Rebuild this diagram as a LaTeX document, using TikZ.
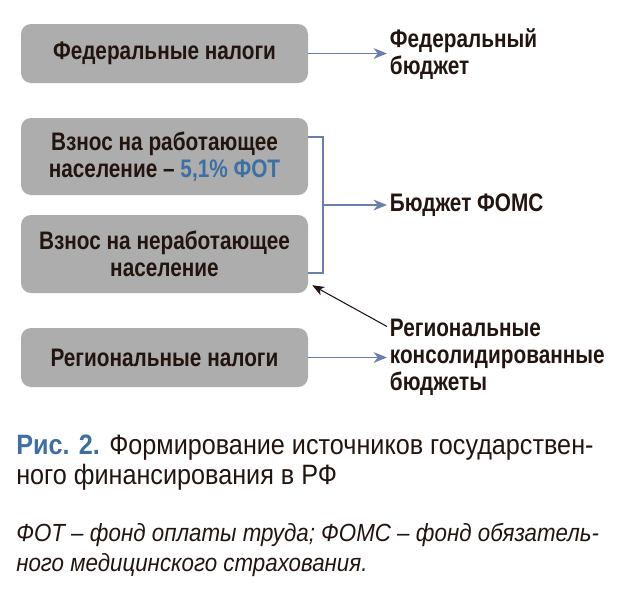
\documentclass[tikz,border=0pt]{standalone}
\usepackage{fontspec}
\setmainfont{Liberation Sans}[FakeStretch=0.9]
\newfontfamily\narrowfont{Liberation Sans}[FakeStretch=0.82,Ligatures=TeX]
\usetikzlibrary{arrows,arrows.meta,shapes,positioning}

\definecolor{boxgray}{HTML}{ADADAD}
\definecolor{flowblue}{HTML}{6A80AA}
\definecolor{textblue}{HTML}{3D6FA3}
\definecolor{inkbrown}{HTML}{221510}

\tikzset{
  srcbox/.style={fill=boxgray, rounded corners=7.5pt, minimum width=215.25pt,
    inner sep=0pt, align=center, text=inkbrown,
    font=\narrowfont\fontsize{19}{20.25}\selectfont\bfseries},
  budget/.style={anchor=west, inner sep=2pt, align=left, text=inkbrown,
    font=\narrowfont\fontsize{19}{20.25}\selectfont\bfseries},
  flow/.style={draw=flowblue, line width=1.3pt},
  pointer/.style={draw=inkbrown, line width=0.8pt},
  flowtip/.style={-{Stealth[length=10pt,width=8pt,inset=3pt]}},
  pointertip/.style={-{Stealth[length=9pt,width=7pt,inset=2.5pt]}}
}

\begin{document}
\begin{tikzpicture}[x=0.75pt,y=-0.75pt]

        \useasboundingbox (0,0) rectangle (619,608);

        % sources
        \node[srcbox, minimum height=44.25pt] (fedtax) at (164.5,53.5) {Федеральные налоги};
        \node[srcbox, minimum height=57.75pt] (workers) at (164.5,156.5) {Взнос на работающее\\население – \textcolor{textblue}{5,1\% ФОТ}};
        \node[srcbox, minimum height=58.5pt] (nonworkers) at (164.5,254) {Взнос на неработающее\\население};
        \node[srcbox, minimum height=44.25pt] (regtax) at (164.5,357.5) {Региональные налоги};

        % budgets
        \node[budget] (fedbudget) at (387,54) {Федеральный\\бюджет};
        \node[budget] (fomsbudget) at (387,205) {Бюджет ФОМС};
        \node[budget] (regbudget) at (387,357) {Региональные\\консолидированные\\бюджеты};

        % connectors
        \draw[flow,flowtip] (fedtax.east) -- (fedtax.east -| fedbudget.west);
        \draw[flow,flowtip] (regtax.east) -- (regtax.east -| regbudget.west);

        \coordinate (brtop) at (308,137);
        \coordinate (brbot) at (308,273);
        \coordinate (brmid) at (323,205);
        \draw[flow] (brtop) -| (brmid) |- (brbot);
        \draw[flow,flowtip] (brmid) -- (brmid -| fomsbudget.west);

        \draw[pointer,pointertip] ([yshift=-8pt]regbudget.north west) -- ([shift={(4,-8)}]nonworkers.south east);

        % caption
        \node[anchor=north west, inner sep=0pt, align=left, text=inkbrown,
              font=\fontsize{21}{22.5}\selectfont] (caption) at (16,435)
              {\textcolor{textblue}{\bfseries Рис. 2.} Формирование источников государствен-\\ного финансирования в РФ};
        \node[anchor=north west, inner sep=0pt, align=left, text=inkbrown,
              font=\fontsize{18.6}{22.5}\selectfont\itshape] (legend) at (16,523)
              {ФОТ – фонд оплаты труда; ФОМС – фонд обязатель-\\ного медицинского страхования.};
\end{tikzpicture}
\end{document}
